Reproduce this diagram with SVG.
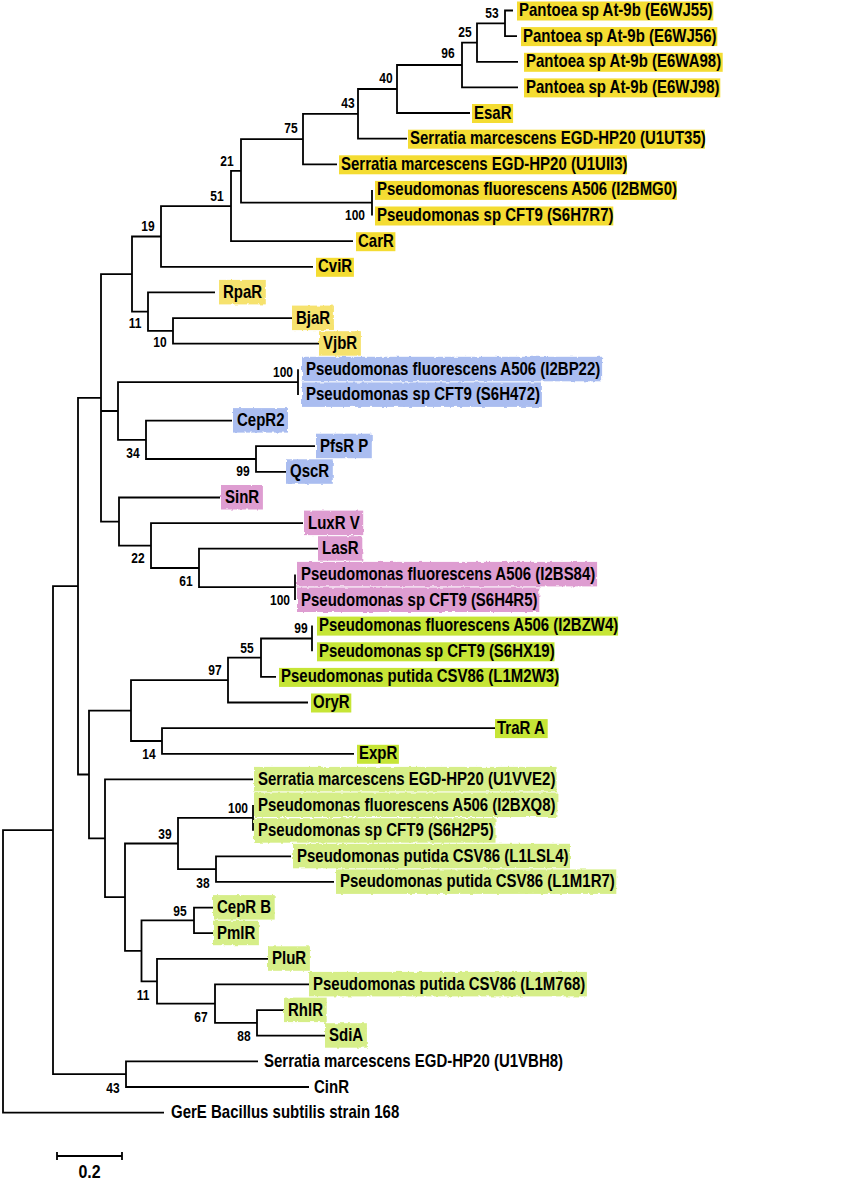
<svg xmlns="http://www.w3.org/2000/svg" width="850" height="1180" viewBox="0 0 850 1180">
<defs>
<style>
.br{fill:none;stroke:#000;stroke-width:1.8;stroke-linejoin:miter}
text{font-family:"Liberation Sans",Arial,sans-serif;font-weight:bold;fill:#000}
.lb{font-size:15px}
.bs{font-size:12px;text-anchor:middle}
.y{fill:#F4DC32}
.yp{fill:#F6E26E;filter:url(#rough)}
.b{fill:#AABDF0;filter:url(#rough)}
.p{fill:#DE9DD1;filter:url(#rough)}
.g{fill:#C6E536}
.gp{fill:#D6EE88;filter:url(#rough)}
</style>
<filter id="rough" x="-5%" y="-20%" width="110%" height="140%">
<feTurbulence type="fractalNoise" baseFrequency="0.2" numOctaves="2" seed="4"/>
<feDisplacementMap in="SourceGraphic" scale="3"/>
</filter>
</defs>
<rect width="850" height="1180" fill="#fff"/>

<g id="branches" class="br">
<path d="M513 10.5H505V36.1H517"/>
<path d="M505 23.3H477V61.8H518"/>
<path d="M477 42.6H462V87.4H518"/>
<path d="M462 65H397V113H470"/>
<path d="M397 89H358V138.7H407"/>
<path d="M358 113.9H303V164.3H337"/>
<path d="M372 189.9V215.5"/>
<path d="M303 139.1H241V202.7H372"/>
<path d="M241 170.9H231V241.2H353"/>
<path d="M231 206.1H161V266.8H313"/>
<path d="M292 318.1H173V343.7H320"/>
<path d="M215 292.4H148V330.9H173"/>
<path d="M161 236.5H132V311.7H148"/>
<path d="M298 369.3V394.9"/>
<path d="M315 446.2H256V471.8H286"/>
<path d="M232 420.6H146V459H256"/>
<path d="M298 382.1H118V439.8H146"/>
<path d="M295 574.4V600"/>
<path d="M320 548.7H199V587.2H295"/>
<path d="M303 523.1H151V568H199"/>
<path d="M220 497.5H119V545.6H151"/>
<path d="M132 274.1H101V521.6H119M101 411H118"/>
<path d="M312 625.6V651.3"/>
<path d="M312 638.5H261V676.9H276"/>
<path d="M261 657.7H228V702.5H308"/>
<path d="M495 728.1H162V753.8H354"/>
<path d="M228 680.1H131V741H162"/>
<path d="M253 805V830.7"/>
<path d="M291 856.3H216V881.9H334"/>
<path d="M253 817.9H178V869.1H216"/>
<path d="M213 907.6H194V933.2H213"/>
<path d="M284 1010.1H257V1035.7H325"/>
<path d="M309 984.4H215V1022.9H257"/>
<path d="M268 958.8H157V1003.7H215"/>
<path d="M194 920.4H141.5V981.3H157"/>
<path d="M178 843.5H125V950.9H141.5"/>
<path d="M253 779.4H105V897.2H125"/>
<path d="M131 710.6H89V838.3H105"/>
<path d="M101 397.9H78V774.5H89"/>
<path d="M258 1061.3H126V1087H309"/>
<path d="M78 586.2H53V1074.2H126"/>
<path d="M53 830.2H3V1112.6H164"/>
</g>

<g id="leaf0"><rect class="y" x="517" y="1.5" width="196.3" height="19"/><text class="lb" transform="matrix(1 0 0 1.18 519 16)">Pantoea sp At-9b (E6WJ55)</text></g>
<g id="leaf1"><rect class="y" x="521" y="27.1" width="196.3" height="19"/><text class="lb" transform="matrix(1 0 0 1.18 523 41.6)">Pantoea sp At-9b (E6WJ56)</text></g>
<g id="leaf2"><rect class="y" x="524" y="52.8" width="198.7" height="19"/><text class="lb" transform="matrix(1 0 0 1.18 526 67.3)">Pantoea sp At-9b (E6WA98)</text></g>
<g id="leaf3"><rect class="y" x="524" y="78.4" width="196.3" height="19"/><text class="lb" transform="matrix(1 0 0 1.18 526 92.9)">Pantoea sp At-9b (E6WJ98)</text></g>
<g id="leaf4"><rect class="y" x="472" y="104" width="41.1" height="19"/><text class="lb" transform="matrix(1 0 0 1.18 474 118.5)">EsaR</text></g>
<g id="leaf5"><rect class="y" x="408" y="129.7" width="296.9" height="19"/><text class="lb" transform="matrix(1 0 0 1.18 410 144.2)">Serratia marcescens EGD-HP20 (U1UT35)</text></g>
<g id="leaf6"><rect class="y" x="339" y="155.3" width="287.9" height="19"/><text class="lb" transform="matrix(1 0 0 1.18 341 169.8)">Serratia marcescens EGD-HP20 (U1UII3)</text></g>
<g id="leaf7"><rect class="y" x="375" y="180.9" width="301.9" height="19"/><text class="lb" transform="matrix(1 0 0 1.18 377 195.4)">Pseudomonas fluorescens A506 (I2BMG0)</text></g>
<g id="leaf8"><rect class="y" x="375" y="206.5" width="238.3" height="19"/><text class="lb" transform="matrix(1 0 0 1.18 377 221)">Pseudomonas sp CFT9 (S6H7R7)</text></g>
<g id="leaf9"><rect class="y" x="356" y="232.2" width="39.4" height="19"/><text class="lb" transform="matrix(1 0 0 1.18 358 246.7)">CarR</text></g>
<g id="leaf10"><rect class="y" x="316" y="257.8" width="37.9" height="19"/><text class="lb" transform="matrix(1 0 0 1.18 318 272.3)">CviR</text></g>
<g id="leaf11"><rect class="yp" x="219" y="279.9" width="46.8" height="24.5"/><text class="lb" transform="matrix(1 0 0 1.18 223 297.9)">RpaR</text></g>
<g id="leaf12"><rect class="yp" x="292" y="305.6" width="41.9" height="24.5"/><text class="lb" transform="matrix(1 0 0 1.18 296 323.6)">BjaR</text></g>
<g id="leaf13"><rect class="yp" x="319" y="331.2" width="41.9" height="24.5"/><text class="lb" transform="matrix(1 0 0 1.18 323 349.2)">VjbR</text></g>
<g id="leaf14"><rect class="b" x="302" y="356.8" width="300.1" height="24.5"/><text class="lb" transform="matrix(1 0 0 1.18 306 374.8)">Pseudomonas fluorescens A506 (I2BP22)</text></g>
<g id="leaf15"><rect class="b" x="302" y="382.4" width="239.9" height="24.5"/><text class="lb" transform="matrix(1 0 0 1.18 306 400.4)">Pseudomonas sp CFT9 (S6H472)</text></g>
<g id="leaf16"><rect class="b" x="233" y="408.1" width="55" height="24.5"/><text class="lb" transform="matrix(1 0 0 1.18 237 426.1)">CepR2</text></g>
<g id="leaf17"><rect class="b" x="316" y="433.7" width="55.8" height="24.5"/><text class="lb" transform="matrix(1 0 0 1.18 320 451.7)">PfsR P</text></g>
<g id="leaf18"><rect class="b" x="286" y="459.3" width="46.8" height="24.5"/><text class="lb" transform="matrix(1 0 0 1.18 290 477.3)">QscR</text></g>
<g id="leaf19"><rect class="p" x="221" y="485" width="41.9" height="24.5"/><text class="lb" transform="matrix(1 0 0 1.18 225 503)">SinR</text></g>
<g id="leaf20"><rect class="p" x="304" y="510.6" width="59.2" height="24.5"/><text class="lb" transform="matrix(1 0 0 1.18 308 528.6)">LuxR V</text></g>
<g id="leaf21"><rect class="p" x="318" y="536.2" width="44.3" height="24.5"/><text class="lb" transform="matrix(1 0 0 1.18 322 554.2)">LasR</text></g>
<g id="leaf22"><rect class="p" x="297" y="561.9" width="300.1" height="24.5"/><text class="lb" transform="matrix(1 0 0 1.18 301 579.9)">Pseudomonas fluorescens A506 (I2BS84)</text></g>
<g id="leaf23"><rect class="p" x="297" y="587.5" width="242.3" height="24.5"/><text class="lb" transform="matrix(1 0 0 1.18 301 605.5)">Pseudomonas sp CFT9 (S6H4R5)</text></g>
<g id="leaf24"><rect class="g" x="317" y="616.6" width="301.1" height="19"/><text class="lb" transform="matrix(1 0 0 1.18 319 631.1)">Pseudomonas fluorescens A506 (I2BZW4)</text></g>
<g id="leaf25"><rect class="g" x="317" y="642.3" width="237.5" height="19"/><text class="lb" transform="matrix(1 0 0 1.18 319 656.8)">Pseudomonas sp CFT9 (S6HX19)</text></g>
<g id="leaf26"><rect class="g" x="279" y="667.9" width="279.6" height="19"/><text class="lb" transform="matrix(1 0 0 1.18 281 682.4)">Pseudomonas putida CSV86 (L1M2W3)</text></g>
<g id="leaf27"><rect class="g" x="311" y="693.5" width="40.3" height="19"/><text class="lb" transform="matrix(1 0 0 1.18 313 708)">OryR</text></g>
<g id="leaf28"><rect class="g" x="495" y="719.1" width="52.7" height="19"/><text class="lb" transform="matrix(1 0 0 1.18 497 733.6)">TraR A</text></g>
<g id="leaf29"><rect class="g" x="357" y="744.8" width="41.9" height="19"/><text class="lb" transform="matrix(1 0 0 1.18 359 759.3)">ExpR</text></g>
<g id="leaf30"><rect class="gp" x="254" y="766.9" width="302.6" height="24.5"/><text class="lb" transform="matrix(1 0 0 1.18 258 784.9)">Serratia marcescens EGD-HP20 (U1VVE2)</text></g>
<g id="leaf31"><rect class="gp" x="254" y="792.5" width="303.4" height="24.5"/><text class="lb" transform="matrix(1 0 0 1.18 258 810.5)">Pseudomonas fluorescens A506 (I2BXQ8)</text></g>
<g id="leaf32"><rect class="gp" x="254" y="818.2" width="241.5" height="24.5"/><text class="lb" transform="matrix(1 0 0 1.18 258 836.2)">Pseudomonas sp CFT9 (S6H2P5)</text></g>
<g id="leaf33"><rect class="gp" x="293" y="843.8" width="277" height="24.5"/><text class="lb" transform="matrix(1 0 0 1.18 297 861.8)">Pseudomonas putida CSV86 (L1LSL4)</text></g>
<g id="leaf34"><rect class="gp" x="336" y="869.4" width="280.3" height="24.5"/><text class="lb" transform="matrix(1 0 0 1.18 340 887.4)">Pseudomonas putida CSV86 (L1M1R7)</text></g>
<g id="leaf35"><rect class="gp" x="213" y="895.1" width="61.7" height="24.5"/><text class="lb" transform="matrix(1 0 0 1.18 217 913.1)">CepR B</text></g>
<g id="leaf36"><rect class="gp" x="213" y="920.7" width="45.9" height="24.5"/><text class="lb" transform="matrix(1 0 0 1.18 217 938.7)">PmlR</text></g>
<g id="leaf37"><rect class="gp" x="268" y="946.3" width="41.9" height="24.5"/><text class="lb" transform="matrix(1 0 0 1.18 272 964.3)">PluR</text></g>
<g id="leaf38"><rect class="gp" x="309" y="971.9" width="277.9" height="24.5"/><text class="lb" transform="matrix(1 0 0 1.18 313 989.9)">Pseudomonas putida CSV86 (L1M768)</text></g>
<g id="leaf39"><rect class="gp" x="284" y="997.6" width="42.7" height="24.5"/><text class="lb" transform="matrix(1 0 0 1.18 288 1015.6)">RhlR</text></g>
<g id="leaf40"><rect class="gp" x="325" y="1023.2" width="41.9" height="24.5"/><text class="lb" transform="matrix(1 0 0 1.18 329 1041.2)">SdiA</text></g>
<g id="leaf41"><text class="lb" transform="matrix(1 0 0 1.18 264 1066.8)">Serratia marcescens EGD-HP20 (U1VBH8)</text></g>
<g id="leaf42"><text class="lb" transform="matrix(1 0 0 1.18 314 1092.5)">CinR</text></g>
<g id="leaf43"><text class="lb" transform="matrix(1 0 0 1.18 171 1118.1)">GerE Bacillus subtilis strain 168</text></g>

<g id="bootstrap">
<text class="bs" transform="matrix(1 0 0 1.15 492 17.7)">53</text>
<text class="bs" transform="matrix(1 0 0 1.15 465 36.7)">25</text>
<text class="bs" transform="matrix(1 0 0 1.15 448 58.3)">96</text>
<text class="bs" transform="matrix(1 0 0 1.15 386 83.2)">40</text>
<text class="bs" transform="matrix(1 0 0 1.15 348 108)">43</text>
<text class="bs" transform="matrix(1 0 0 1.15 291 133)">75</text>
<text class="bs" transform="matrix(1 0 0 1.15 227 166)">21</text>
<text class="bs" transform="matrix(1 0 0 1.15 217 201)">51</text>
<text class="bs" transform="matrix(1 0 0 1.15 355 220)">100</text>
<text class="bs" transform="matrix(1 0 0 1.15 148 231)">19</text>
<text class="bs" transform="matrix(1 0 0 1.15 135 328)">11</text>
<text class="bs" transform="matrix(1 0 0 1.15 160 347)">10</text>
<text class="bs" transform="matrix(1 0 0 1.15 283 377)">100</text>
<text class="bs" transform="matrix(1 0 0 1.15 133 458)">34</text>
<text class="bs" transform="matrix(1 0 0 1.15 243 476)">99</text>
<text class="bs" transform="matrix(1 0 0 1.15 138 563)">22</text>
<text class="bs" transform="matrix(1 0 0 1.15 186 586)">61</text>
<text class="bs" transform="matrix(1 0 0 1.15 280 605)">100</text>
<text class="bs" transform="matrix(1 0 0 1.15 301 633)">99</text>
<text class="bs" transform="matrix(1 0 0 1.15 247 653)">55</text>
<text class="bs" transform="matrix(1 0 0 1.15 215 675)">97</text>
<text class="bs" transform="matrix(1 0 0 1.15 149 759)">14</text>
<text class="bs" transform="matrix(1 0 0 1.15 238 813)">100</text>
<text class="bs" transform="matrix(1 0 0 1.15 165 839)">39</text>
<text class="bs" transform="matrix(1 0 0 1.15 203 888)">38</text>
<text class="bs" transform="matrix(1 0 0 1.15 180 916)">95</text>
<text class="bs" transform="matrix(1 0 0 1.15 143 1000)">11</text>
<text class="bs" transform="matrix(1 0 0 1.15 201 1022)">67</text>
<text class="bs" transform="matrix(1 0 0 1.15 244 1041)">88</text>
<text class="bs" transform="matrix(1 0 0 1.15 113 1093)">43</text>
</g>

<g id="scalebar">
<path class="br" d="M57 1156H122M57 1152V1160M122 1152V1160"/>
<text font-size="16" text-anchor="middle" transform="matrix(1 0 0 1.15 89.5 1177.5)">0.2</text>
</g>
</svg>
